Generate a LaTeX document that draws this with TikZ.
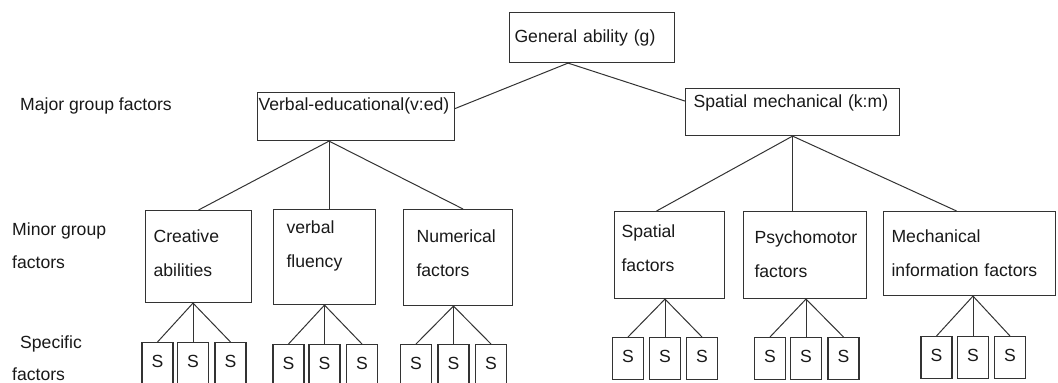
\documentclass[tikz,border=0pt]{standalone}
\usepackage{fontspec}
\setmainfont{Liberation Sans}

\begin{document}
\begin{tikzpicture}
      [%%%%%%%%%%%%%%%%%%%%%%%%%%%%%%
      x=1pt, y=-1pt,
      every node/.style={font=\fontsize{17.6}{34}\selectfont, text=black!90},
      box/.style={rectangle,draw=black!80,line width=1.1pt, inner ysep=0pt, align=left, anchor=north west},
      sbox/.style={rectangle,draw=black!80,line width=1.1pt, inner sep=0pt, minimum width=31pt, text height=25pt, text depth=17pt, anchor=north},
      lbl/.style={inner sep=0pt, anchor=base west, align=left},
      link/.style={draw=black!80, line width=1pt},
      ]%%%%%%%%%%%%%%%%%%%%%%%%%%%%%%
      \useasboundingbox (0,0) rectangle (1058,383);

      % levels
      \node[lbl] (major) at (20,110) {Major group factors};
      \node[lbl] (minor) at (12,268) {Minor group\\[-1pt]factors};
      \node[lbl] (spec) at (12,380) {\hspace*{8pt}Specific\\[-2pt]factors};

      % g and the two major groups
      \node[box, text width=155pt, inner xsep=5pt, text height=30pt, text depth=20pt] (g) at (509,12) {General ability (g)};
      \node[box, text width=195pt, inner xsep=1pt, text height=18pt, text depth=30pt] (ve) at (257,92) {Verbal-educational(v:ed)};
      \node[box, text width=198pt, inner xsep=8pt, text height=19pt, text depth=28pt] (sm) at (685,88) {Spatial mechanical (k:m)};

      % minor groups
      \node[box, text width=90pt, inner xsep=8pt, text height=32pt, text depth=60pt] (cr) at (145,210) {Creative\\abilities};
      \node[box, text width=76pt, inner xsep=13pt, text height=24pt, text depth=71pt] (vf) at (273,209) {verbal\\fluency};
      \node[box, text width=83pt, inner xsep=13pt, text height=33pt, text depth=63pt] (nu) at (403,209) {Numerical\\factors};
      \node[box, text width=96pt, inner xsep=7pt, text height=26pt, text depth=61pt] (sp) at (614,211) {Spatial\\factors};
      \node[box, text width=101pt, inner xsep=11pt, text height=32pt, text depth=55pt] (ps) at (743,211) {Psychomotor\\factors};
      \node[box, text width=156pt, inner xsep=8pt, text height=31pt, text depth=53pt] (me) at (883,211) {Mechanical\\information factors};

      \coordinate (gj) at ([xshift=-24pt]g.south);
      \draw[link] (gj) -- ([yshift=8pt]ve.east);
      \draw[link] (gj) -- ([yshift=11pt]sm.west);

      \coordinate (vj) at ([xshift=-27pt]ve.south);
      \draw[link] (vj) -- (cr.north);
      \draw[link] (vj) -- (vj |- vf.north);
      \draw[link] (vj) -- ([xshift=5pt]nu.north);

      \draw[link] (sm.south) -- ([xshift=-13pt]sp.north);
      \draw[link] (sm.south) -- (sm.south |- ps.north);
      \draw[link] (sm.south) -- ([xshift=-13pt]me.north);

      % specific factors
      \foreach \p/\a/\b/\c/\t in {cr/157.5/193/230.5/342, vf/288.5/324.5/362/344, nu/416/453.5/491/344,
                                  sp/628/665/702/337, ps/770/806/843.5/337, me/936.5/973/1010/336}{
        \node[sbox] (\p-1) at (\a,\t) {S};
        \node[sbox] (\p-2) at (\b,\t) {S};
        \node[sbox] (\p-3) at (\c,\t) {S};
        \draw[link] (\p-2.north |- \p.south) -- (\p-1.north);
        \draw[link] (\p-2.north |- \p.south) -- (\p-2.north);
        \draw[link] (\p-2.north |- \p.south) -- (\p-3.north);
      }
    \end{tikzpicture}
\end{document}
